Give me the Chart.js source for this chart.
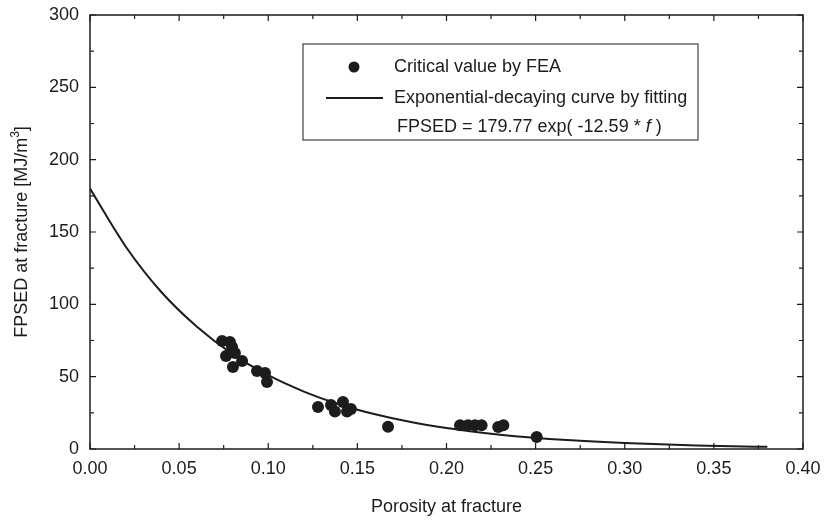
<!DOCTYPE html>
<html>
<head>
<meta charset="utf-8">
<script src="https://cdn.jsdelivr.net/npm/chart.js@4.4.1/dist/chart.umd.min.js"></script>
<style>
  html, body { margin: 0; padding: 0; background: #fff; }
</style>
</head>
<body>
<canvas id="chart" width="824" height="520"></canvas>
<script>
// critical values by FEA
const feaPorosity = [0.0741, 0.0785, 0.0797, 0.0763, 0.0813, 0.0802, 0.0853, 0.0937, 0.0982, 0.0993,
                     0.1279, 0.1352, 0.1374, 0.1419, 0.1442, 0.1464, 0.1672,
                     0.2076, 0.2121, 0.2160, 0.2197, 0.2290, 0.2319, 0.2506];
const feaFpsed = [74.7, 73.9, 70.5, 64.3, 66.4, 56.7, 60.8, 53.9, 52.5, 46.3,
                  29.0, 30.4, 25.9, 32.5, 25.9, 27.6, 15.4,
                  16.4, 16.4, 16.4, 16.4, 15.2, 16.4, 8.3];

// fitted curve
const fitPorosity = [0.00, 0.02, 0.04, 0.06, 0.08, 0.10, 0.12, 0.14, 0.16, 0.18,
                     0.20, 0.22, 0.24, 0.26, 0.28, 0.30, 0.32, 0.34, 0.36, 0.38];
const fitFpsed = [180, 140, 108.5, 84.5, 65.6, 51, 39.7, 30.8, 24, 18.6,
                  14.5, 11.3, 8.7, 6.8, 5.3, 4.1, 3.2, 2.5, 1.9, 1.5];

const xTickLabels = ['0.00', '0.05', '0.10', '0.15', '0.20', '0.25', '0.30', '0.35', '0.40'];
const yTickLabels = ['0', '50', '100', '150', '200', '250', '300'];

const seriesNames = ['Critical value by FEA', 'Exponential-decaying curve by fitting'];
const xTitle = 'Porosity at fracture';

const INK = '#1c1c1c';
const FONT = '"Liberation Sans", Arial, sans-serif';

// frame, inward ticks, axis titles and the legend box
const decorPlugin = {
  id: 'decor',
  afterDraw(chart) {
    const { ctx, chartArea: a, scales } = chart;
    const x = scales.x, y = scales.y;
    ctx.save();
    ctx.strokeStyle = INK;
    ctx.lineWidth = 1.5;
    ctx.strokeRect(a.left, a.top, a.right - a.left, a.bottom - a.top);

    ctx.lineWidth = 1.2;
    ctx.beginPath();
    for (let i = 0; i <= 16; i++) {
      const px = x.getPixelForValue(i * 0.025);
      const len = i % 2 === 0 ? 6 : 4;
      ctx.moveTo(px, a.bottom); ctx.lineTo(px, a.bottom - len);
      ctx.moveTo(px, a.top); ctx.lineTo(px, a.top + len);
    }
    for (let i = 0; i <= 12; i++) {
      const py = y.getPixelForValue(i * 25);
      const len = i % 2 === 0 ? 6 : 4;
      ctx.moveTo(a.left, py); ctx.lineTo(a.left + len, py);
      ctx.moveTo(a.right, py); ctx.lineTo(a.right - len, py);
    }
    ctx.stroke();

    // x title
    ctx.fillStyle = INK;
    ctx.font = '18px ' + FONT;
    ctx.textAlign = 'center';
    ctx.textBaseline = 'middle';
    ctx.fillText(xTitle, (a.left + a.right) / 2, 507);

    // y title with superscript
    ctx.save();
    ctx.translate(22, (a.top + a.bottom) / 2);
    ctx.rotate(-Math.PI / 2);
    ctx.textAlign = 'left';
    const p1 = 'FPSED at fracture [MJ/m', p2 = '3', p3 = ']';
    ctx.font = '18px ' + FONT;
    const w1 = ctx.measureText(p1).width, w3 = ctx.measureText(p3).width;
    ctx.font = '12px ' + FONT;
    const w2 = ctx.measureText(p2).width;
    let sx = -(w1 + w2 + w3) / 2;
    ctx.font = '18px ' + FONT;
    ctx.fillText(p1, sx, 0);
    ctx.font = '12px ' + FONT;
    ctx.fillText(p2, sx + w1, -6);
    ctx.font = '18px ' + FONT;
    ctx.fillText(p3, sx + w1 + w2, 0);
    ctx.restore();

    // legend
    ctx.lineWidth = 1;
    ctx.strokeStyle = INK;
    ctx.strokeRect(303, 44, 395, 96);
    ctx.beginPath();
    ctx.arc(354, 67, 5.5, 0, Math.PI * 2);
    ctx.fill();
    ctx.lineWidth = 2;
    ctx.beginPath();
    ctx.moveTo(326, 98); ctx.lineTo(383, 98);
    ctx.stroke();
    ctx.textAlign = 'left';
    ctx.font = '18px ' + FONT;
    ctx.fillText(seriesNames[0], 394, 67);
    ctx.fillText(seriesNames[1], 394, 98);
    const f1 = 'FPSED = 179.77 exp( -12.59 * ';
    ctx.fillText(f1, 397, 127);
    const fw = ctx.measureText(f1).width;
    ctx.font = 'italic 18px ' + FONT;
    ctx.fillText('f', 397 + fw, 127);
    const iw = ctx.measureText('f').width;
    ctx.font = '18px ' + FONT;
    ctx.fillText(' )', 397 + fw + iw, 127);
    ctx.restore();
  }
};

const ctx = document.getElementById('chart').getContext('2d');
const chart = new Chart(ctx, {
  type: 'scatter',
  data: {
    datasets: [{
      label: seriesNames[0],
      data: feaPorosity.map((v, i) => ({ x: v, y: feaFpsed[i] })),
      pointRadius: 6,
      pointHoverRadius: 6,
      backgroundColor: INK,
      borderColor: INK,
      borderWidth: 0,
      order: 0
    }, {
      label: seriesNames[1],
      type: 'line',
      data: fitPorosity.map((v, i) => ({ x: v, y: fitFpsed[i] })),
      showLine: true,
      pointRadius: 0,
      borderColor: INK,
      borderWidth: 2,
      fill: false,
      cubicInterpolationMode: 'monotone',
      order: 1
    }]
  },
  options: {
    responsive: false,
    animation: false,
    layout: { autoPadding: false, padding: { top: 15, right: 21, left: 0, bottom: 0 } },
    plugins: { legend: { display: false }, tooltip: { enabled: false } },
    scales: {
      x: {
        type: 'linear',
        min: 0, max: 0.4,
        grid: { display: false, drawTicks: false },
        border: { display: false },
        ticks: {
          stepSize: 0.05,
          padding: 9,
          color: INK,
          font: { family: FONT, size: 18 },
          callback: (v, i) => xTickLabels[i]
        },
        afterFit: s => { s.height = 71; s.paddingLeft = 0; s.paddingRight = 0; }
      },
      y: {
        type: 'linear',
        min: 0, max: 300,
        grid: { display: false, drawTicks: false },
        border: { display: false },
        ticks: {
          stepSize: 50,
          padding: 11,
          color: INK,
          font: { family: FONT, size: 18 },
          callback: (v, i) => yTickLabels[i]
        },
        afterFit: s => { s.width = 90; s.paddingTop = 0; s.paddingBottom = 0; }
      }
    }
  },
  plugins: [decorPlugin]
});
</script>
</body>
</html>
